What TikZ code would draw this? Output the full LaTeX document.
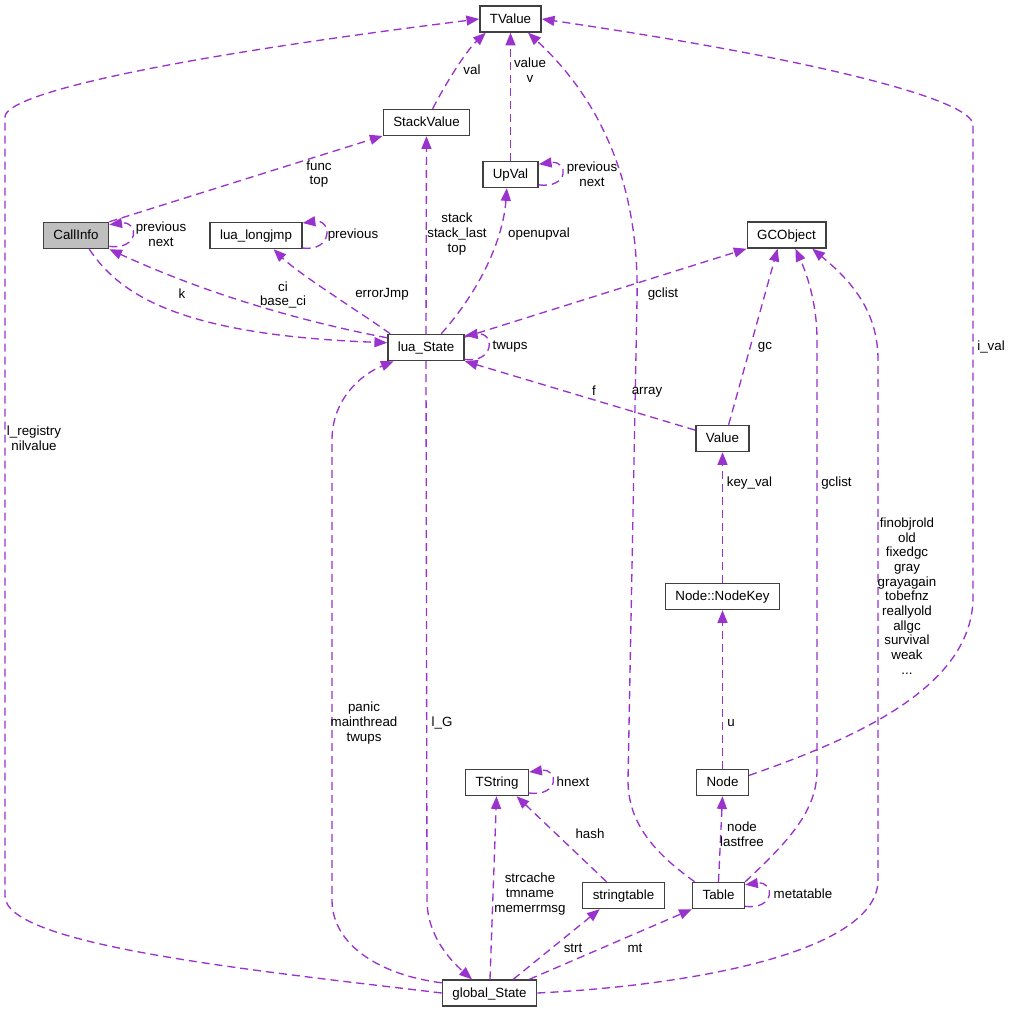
\documentclass[tikz,border=0pt]{standalone}
\usepackage{fontspec}
\setmainfont{Liberation Sans}
\usetikzlibrary{arrows.meta}
\definecolor{edgepurple}{HTML}{9A32CD}
\definecolor{boxgray}{HTML}{404040}
\definecolor{fillgray}{HTML}{BFBFBF}

\begin{document}
\begin{tikzpicture}[x=0.75pt,y=-0.75pt,
  cls/.style={draw=boxgray,line width=1.1pt,fill=white,inner xsep=7.5pt,inner ysep=0pt,
    minimum height=19.5pt,text height=7pt,text depth=0.5pt,font=\fontsize{10}{11}\selectfont},
  rel/.style={draw=edgepurple,line width=1pt,dash pattern=on 6pt off 3.75pt,
    -{Triangle[length=9.5pt,width=7.5pt]}},
  lbl/.style={align=center,inner sep=0pt,font=\fontsize{10}{11}\selectfont}]
  \useasboundingbox (0,0) rectangle (1011,1012);

  \node[cls] (tvalue) at (510.5,19) {TValue};
  \node[cls] (stackvalue) at (426.5,122.5) {StackValue};
  \node[cls] (upval) at (510.5,174.5) {UpVal};
  \node[cls,fill=fillgray] (callinfo) at (76,235.5) {CallInfo};
  \node[cls] (lualongjmp) at (256,235.5) {lua\_longjmp};
  \node[cls] (gcobject) at (786.5,235) {GCObject};
  \node[cls] (luastate) at (426,347.5) {lua\_State};
  \node[cls] (value) at (722.5,438.5) {Value};
  \node[cls] (nodekey) at (722.5,596.5) {Node::NodeKey};
  \node[cls] (luanode) at (722.5,782.5) {Node};
  \node[cls] (tstring) at (497,782.5) {TString};
  \node[cls] (stringtable) at (623.5,895.5) {stringtable};
  \node[cls] (luatable) at (718.5,895.5) {Table};
  \node[cls] (globalstate) at (489.5,993) {global\_State};

  % edges into TValue
  \draw[rel] (globalstate.west) .. controls (250,970) and (5,945) .. (5,896) -- (5,117)
    .. controls (5,95) and (150,60) .. (tvalue.west);
  \draw[rel] (stackvalue.66) .. controls (445,85) and (465,52) .. (tvalue.209);
  \draw[rel] (upval) -- (tvalue);
  \draw[rel] (luatable.150) .. controls (650,850) and (628,820) .. (628,780) -- (637,300)
    .. controls (640,170) and (590,90) .. (tvalue.-38);
  \draw[rel] (luanode.15) .. controls (850,740) and (970,690) .. (973,600) -- (973,125)
    .. controls (973,100) and (820,60) .. (tvalue.east);

  % self loops
  \draw[rel] (callinfo.-18) .. controls +(30,4) and +(30,-4) .. (callinfo.18);
  \draw[rel] (lualongjmp.-15) .. controls +(30,4) and +(30,-4) .. (lualongjmp.15);
  \draw[rel] (upval.-20) .. controls +(30,4) and +(30,-4) .. (upval.20);
  \draw[rel] (luastate.-17) .. controls +(30,4) and +(30,-4) .. (luastate.17);
  \draw[rel] (tstring.-18) .. controls +(30,4) and +(30,-4) .. (tstring.18);
  \draw[rel] (luatable.-22) .. controls +(30,4) and +(30,-4) .. (luatable.22);

  % around lua_State
  \draw[rel] (callinfo.north east) -- (stackvalue.197);
  \draw[rel] (luastate) -- (stackvalue);
  \draw[rel] (luastate.166) .. controls (320,325) and (220,300) .. (callinfo.south east);
  \draw[rel] (callinfo.-46) .. controls (120,295) and (180,335) .. (luastate.173);
  \draw[rel] (luastate.159) .. controls (360,312) and (300,275) .. (lualongjmp.-38);
  \draw[rel] (luastate.42) .. controls (480,290) and (503,240) .. (upval.-105);
  \draw[rel] (luastate.15) -- (gcobject.south west);
  \draw[rel] (value.163) -- (luastate.south east);
  \draw[rel] (value.66) -- (gcobject.-123);
  \draw[rel] (nodekey) -- (value);
  \draw[rel] (luanode) -- (nodekey);
  \draw[rel] (luatable.north) -- (luanode.south);
  \draw[rel] (luatable.north east) .. controls (790,840) and (817,810) .. (817,770) -- (817,340)
    .. controls (817,300) and (805,270) .. (gcobject.-57);

  % global_State
  \draw[rel] (globalstate.east) .. controls (700,985) and (878,950) .. (878,880) -- (878,360)
    .. controls (878,310) and (850,280) .. (gcobject.-28);
  \draw[rel] (luastate.south) -- (427,900) .. controls (427,935) and (450,960) .. (globalstate.142);
  \draw[rel] (globalstate.168) .. controls (380,975) and (332,945) .. (332,900) -- (332,440)
    .. controls (332,400) and (360,375) .. (luastate.-157);
  \draw[rel] (globalstate) -- (tstring);
  \draw[rel] (globalstate.30) -- (stringtable.-150);
  \draw[rel] (globalstate.19) -- (luatable.south west);
  \draw[rel] (stringtable.141) -- (tstring.-35);

  % labels
  \node[lbl] (lregistry) at (34,438) {l\_registry\\nilvalue};
  \node[lbl] (lval) at (472,70) {val};
  \node[lbl] (lvaluev) at (530,70) {value\\v};
  \node[lbl] (lupvalloop) at (592,174) {previous\\next};
  \node[lbl] (lfunc) at (319,174) {func\\top};
  \node[lbl] (lcallloop) at (161,234.5) {previous\\next};
  \node[lbl] (ljmploop) at (353,235) {previous};
  \node[lbl] (lstack) at (457,234) {stack\\stack\_last\\top};
  \node[lbl] (lopen) at (539,234) {openupval};
  \node[lbl] (lk) at (182,294) {k};
  \node[lbl] (lci) at (283,295) {ci\\base\_ci};
  \node[lbl] (lerr) at (382,294) {errorJmp};
  \node[lbl] (lgclist) at (663,294) {gclist};
  \node[lbl] (ltwups) at (510,347) {twups};
  \node[lbl] (lgc) at (765,347) {gc};
  \node[lbl] (lival) at (991,347) {i\_val};
  \node[lbl] (lf) at (594,391) {f};
  \node[lbl] (larray) at (647,392) {array};
  \node[lbl] (lkeyval) at (749.5,483) {key\_val};
  \node[lbl] (lgclist2) at (836.5,483) {gclist};
  \node[lbl] (lgcall) at (907,596) {finobjrold\\old\\fixedgc\\gray\\grayagain\\tobefnz\\reallyold\\allgc\\survival\\weak\\...};
  \node[lbl] (lpanic) at (364,723) {panic\\mainthread\\twups};
  \node[lbl] (llg) at (442,723) {l\_G};
  \node[lbl] (lu) at (731,723) {u};
  \node[lbl] (lhnext) at (573,782) {hnext};
  \node[lbl] (lnode) at (742,834) {node\\lastfree};
  \node[lbl] (lhash) at (590,834) {hash};
  \node[lbl] (lstrcache) at (530,894) {strcache\\tmname\\memerrmsg};
  \node[lbl] (lmeta) at (803,894) {metatable};
  \node[lbl] (lstrt) at (573,948) {strt};
  \node[lbl] (lmt) at (635,948) {mt};
\end{tikzpicture}
\end{document}
